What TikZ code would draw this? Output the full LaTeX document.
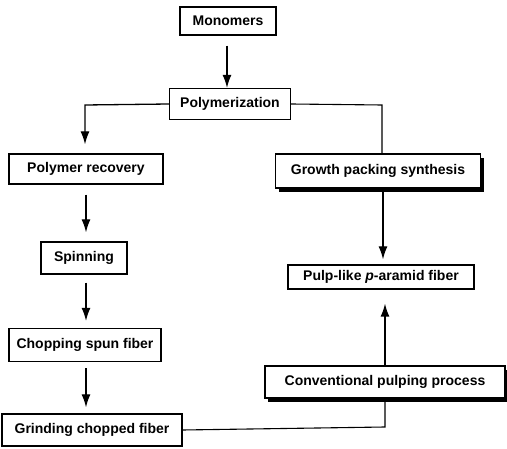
\documentclass[tikz,border=0pt]{standalone}
\usepackage{fontspec}
\setmainfont{Liberation Sans}
\usetikzlibrary{arrows.meta,shadows}
\begin{document}
\begin{tikzpicture}[x=1pt,y=-1pt,
  box/.style={draw,line width=1.3pt,fill=white,inner sep=0pt,font=\fontsize{14}{16}\selectfont\bfseries},
  shadowbox/.style={box,drop shadow={shadow xshift=3pt,shadow yshift=-4pt,fill=black,opacity=1}},
  arr/.style={line width=1.3pt,-{Latex[length=13pt,width=9pt]}},
  ln/.style={line width=1.1pt}]
\useasboundingbox (0,0) rectangle (507,449);
\node[box,minimum width=96pt,minimum height=28pt] (mono) at (228,21) {Monomers};
\node[box,minimum width=121pt,minimum height=31pt] (poly) at (230,104) {Polymerization};
\node[box,minimum width=154pt,minimum height=30pt] (recov) at (86,169) {Polymer recovery};
\node[box,minimum width=86pt,minimum height=32pt] (spin) at (84,258) {Spinning};
\node[box,minimum width=152pt,minimum height=33pt] (chop) at (85,345) {Chopping spun fiber};
\node[box,minimum width=180pt,minimum height=32pt] (grind) at (92,430) {Grinding chopped fiber};
\node[shadowbox,minimum width=205pt,minimum height=34pt] (growth) at (378,171) {Growth packing synthesis};
\node[box,minimum width=186pt,minimum height=24pt] (pulp) at (381,277) {Pulp-like \textit{p}-aramid fiber};
\node[shadowbox,minimum width=240pt,minimum height=32pt] (conv) at (385,382) {Conventional pulping process};
\coordinate (pl) at (85,105);
\coordinate (pr) at (382,105);
\coordinate (gr) at (385,427);
\draw[arr] ([xshift=-1pt,yshift=-10pt]mono.south) -- ([xshift=-3pt]poly.north);
\draw[arr,shorten >=9pt] (poly.west) -- (pl) -- (pl |- recov.north);
\draw[ln] (poly.east) -- (pr) -- (pr |- growth.north);
\draw[arr,shorten >=9pt] ([yshift=-10pt]recov.south) -- (recov.south |- spin.north);
\draw[arr,shorten >=7pt] ([xshift=2pt,yshift=-8pt]spin.south) -- ([xshift=2pt]spin.south |- chop.north);
\draw[arr,shorten >=6pt] ([xshift=1pt,yshift=-6pt]chop.south) -- ([xshift=1pt]chop.south |- grind.north);
\draw[arr,shorten >=5pt] ([xshift=5pt]growth.south) -- ([xshift=5pt]growth.south |- pulp.north);
\draw[arr,shorten >=14pt] (conv.north) -- (conv.north |- pulp.south);
\draw[ln] (grind.east) -- (gr) -- (conv.south);
\end{tikzpicture}
\end{document}
